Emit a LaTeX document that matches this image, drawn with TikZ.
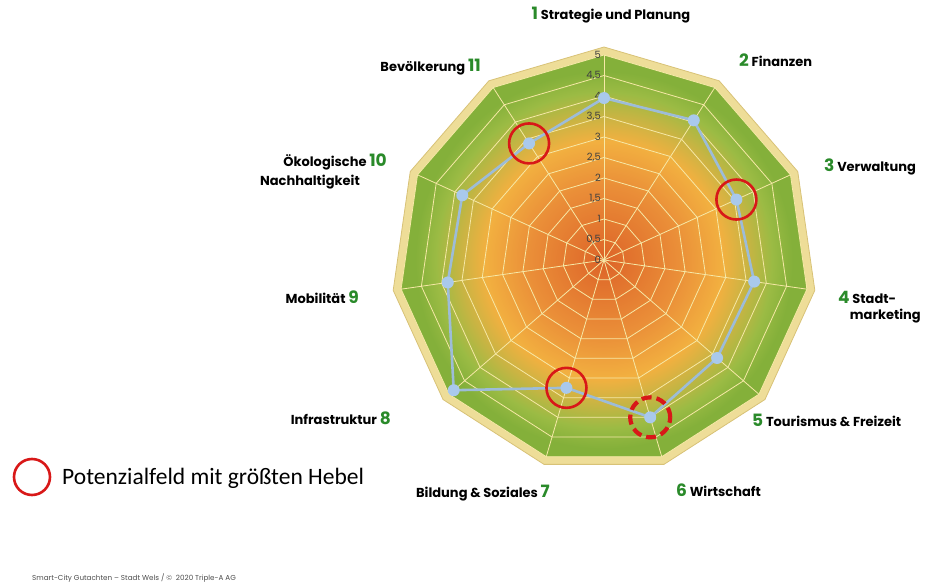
\documentclass[tikz,border=0pt]{standalone}
\usepackage{fontspec}
\usetikzlibrary{calc}
\setmainfont{Poppins}
\newfontfamily\calib{Carlito}
\definecolor{o1}{HTML}{DD6428}
\definecolor{o2}{HTML}{EA8E38}
\definecolor{o3}{HTML}{F2B040}
\definecolor{o4}{HTML}{C9B443}
\definecolor{o5}{HTML}{9BBB44}
\definecolor{o6}{HTML}{84B03A}
\definecolor{gridc}{HTML}{F6E8A6}
\definecolor{goldc}{HTML}{EEDD98}
\definecolor{goldd}{HTML}{D8C277}
\definecolor{datac}{HTML}{9DBCD8}
\definecolor{dotc}{HTML}{A9C9EC}
\definecolor{numc}{HTML}{2A8A2A}
\definecolor{redc}{HTML}{D81818}
\pgfdeclareradialshading{web}{\pgfpoint{0bp}{0bp}}{color(0bp)=(o1); color(9bp)=(o2); color(14.5bp)=(o3); color(17.5bp)=(o4); color(20.5bp)=(o5); color(23bp)=(o6); color(50bp)=(o6)}
\tikzset{
 lab/.style={font=\bfseries\fontsize{13}{15}\selectfont, text=black, inner sep=0pt},
 gridl/.style={draw=gridc, line width=0.8pt},
 datal/.style={draw=datac, line width=2.6pt, line join=round},
 dot/.style={circle, fill=dotc, minimum size=12pt, inner sep=0pt},
 hring/.style={draw=redc, line width=2.6pt, circle, minimum size=40pt, inner sep=0pt},
 dhring/.style={hring, line width=4.2pt, dash pattern=on 10pt off 5pt},
 scl/.style={font=\fontsize{10}{10}\selectfont, text=black!75, anchor=east, inner sep=0pt}
}
\newcommand\gnum[1]{\textcolor{numc}{\fontsize{17}{17}\selectfont #1}}
\begin{document}
\begin{tikzpicture}[x=1pt,y=-1pt]
\useasboundingbox (0,0) rectangle (937,585);
\coordinate (c) at (604,260);
% gold rim
\fill[goldc, draw=goldd, line width=0.8pt] ($(c)+(-90:213)$) \foreach \k in {1,...,10}{ -- ($(c)+({-90+32.7273*\k}:213)$)} -- cycle;
\begin{scope}
\clip ($(c)+(-90:205)$) \foreach \k in {1,...,10}{ -- ($(c)+({-90+32.7273*\k}:205)$)} -- cycle;
\shade[shading=web] (c) circle (205);
\end{scope}
% rings
\foreach \r in {1,...,10}{
 \draw[gridl] ($(c)+(-90:\r*20.5)$) \foreach \k in {1,...,10}{ -- ($(c)+({-90+32.7273*\k}:\r*20.5)$)} -- cycle;
}
\foreach \k in {0,...,10}{ \draw[gridl] (c) -- ($(c)+({-90+32.7273*\k}:205)$); }
% scale
\foreach \v/\t [count=\i from 0] in {0/0,1/{0,5},2/1,3/{1,5},4/2,5/{2,5},6/3,7/{3,5},8/4,9/{4,5},10/5}
 \node[scl] (s\i) at ($(c)+(-3,-\v*20.5)$) {\t};
% data
\foreach \k/\v in {1/3.95,2/4.05,3/3.55,4/3.7,5/3.65,6/4.0,7/3.25,8/4.85,9/3.85,10/3.8,11/3.38}
 \coordinate (d\k) at ($(c)+({-90+32.7273*(\k-1)}:\v*41)$);
\draw[datal] (d1)--(d2)--(d3)--(d4)--(d5)--(d6)--(d7)--(d8)--(d9)--(d10)--(d11)--cycle;
\foreach \k in {1,...,11} \node[dot] (p\k) at (d\k) {};
\node[hring] (m3) at (d3) {};
\node[hring] (m11) at (d11) {};
\node[hring] (m7) at (d7) {};
\node[dhring] (m6) at (d6) {};
% labels
\node[lab] (l1) at (611,15) {\gnum{1} Strategie und Planung};
\node[lab, anchor=west] (l2) at (739,60) {\gnum{2} Finanzen};
\node[lab, anchor=west] (l3) at (824,167) {\gnum{3} Verwaltung};
\node[lab, anchor=west] (l4) at (838,297) {\gnum{4} Stadt-};
\node[lab, anchor=east] (l4b) at (921,316) {marketing};
\node[lab, anchor=west] (l5) at (752,420) {\gnum{5} Tourismus \& Freizeit};
\node[lab, anchor=west] (l6) at (676,490) {\gnum{6} Wirtschaft};
\node[lab, anchor=east] (l7) at (550,493) {Bildung \& Soziales \gnum{7}};
\node[lab, anchor=east] (l8) at (391,418) {Infrastruktur \gnum{8}};
\node[lab, anchor=east] (l9) at (359,297) {Mobilität \gnum{9}};
\node[lab, anchor=east] (l10) at (387,162) {Ökologische \gnum{10}};
\node[lab, anchor=east] (l10b) at (360,182) {Nachhaltigkeit};
\node[lab, anchor=east] (l11) at (481,67) {Bevölkerung \gnum{11}};
% legend
\node[hring, minimum size=36pt] (lg) at (32,477) {};
\node[anchor=west, inner sep=0pt, font=\calib\fontsize{23.5}{24}\selectfont] (lgt) at (62,478) {Potenzialfeld mit größten Hebel};
\node[anchor=west, inner sep=0pt, text=black!70, font=\fontsize{7.2}{8}\selectfont] (ft) at (32,578) {Smart-City Gutachten – Stadt Wels / ©\ \ 2020 Triple-A AG};
\end{tikzpicture}
\end{document}
